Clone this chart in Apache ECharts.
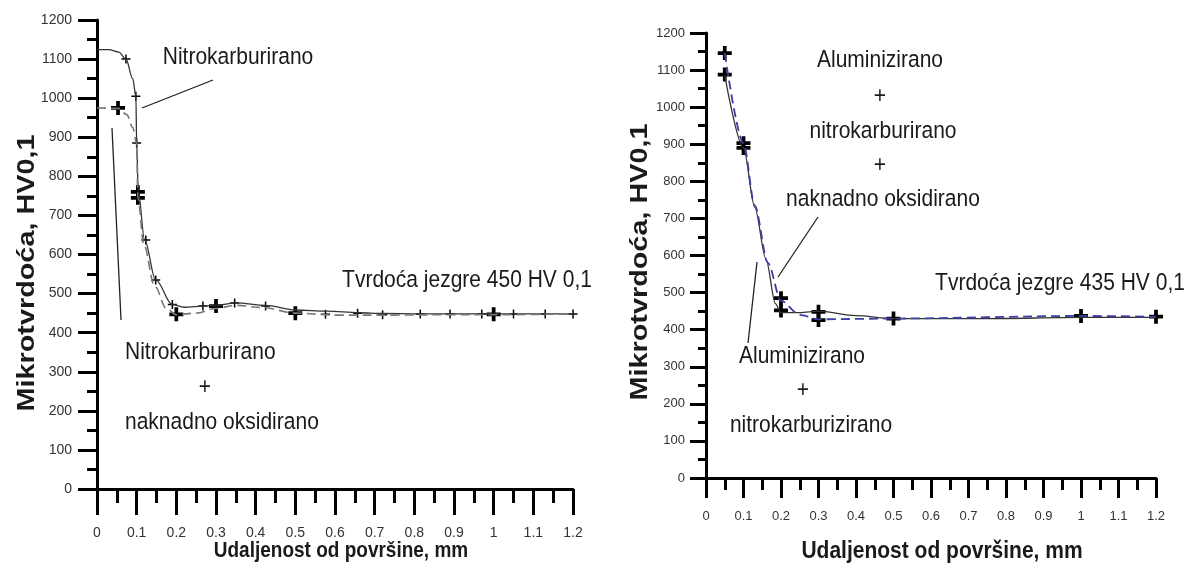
<!DOCTYPE html>
<html>
<head>
<meta charset="utf-8">
<script src="https://cdn.jsdelivr.net/npm/echarts@6/dist/echarts.min.js"></script>
<style>
  html, body { margin: 0; padding: 0; background: #fff; }
  #chart { width: 1194px; height: 583px; }
</style>
</head>
<body>
<div id="chart"></div>
<script>
// lijevi dijagram - nitrokarburirano
const leftSolidX = [0, 0.03, 0.055, 0.073, 0.09, 0.098, 0.1, 0.104, 0.12, 0.148, 0.19, 0.22, 0.27, 0.3, 0.35, 0.425, 0.5, 0.58, 0.66, 0.72, 0.815, 0.89, 0.97, 1.05, 1.13, 1.2];
const leftSolidY = [1125, 1124, 1118, 1100, 1050, 1005, 885, 760, 637, 535, 472, 465, 468, 470, 476, 470, 458, 455, 451, 449, 448, 448, 448, 448, 448, 448];
const leftDashX = [0, 0.053, 0.075, 0.09, 0.1, 0.103, 0.118, 0.145, 0.175, 0.2, 0.25, 0.3, 0.35, 0.42, 0.5, 0.6, 0.75, 0.9, 1.0, 1.2];
const leftDashY = [975, 974, 958, 925, 885, 745, 625, 520, 462, 446, 450, 462, 470, 464, 450, 445, 445, 446, 446, 448];
const leftThinMarks = [[0.073, 1100], [0.098, 1005], [0.1, 885], [0.123, 637], [0.148, 535], [0.19, 472], [0.267, 468], [0.347, 476], [0.425, 468], [0.576, 447], [0.657, 450], [0.72, 446], [0.815, 448], [0.89, 448], [0.97, 448], [1.05, 448], [1.13, 448], [1.2, 448]];
const leftBoldMarks = [[0.053, 975], [0.103, 760], [0.103, 745], [0.2, 447], [0.3, 468], [0.5, 450], [1.0, 447]];

// desni dijagram - aluminizirano
const rightSolidX = [0.05, 0.1, 0.13, 0.16, 0.185, 0.2, 0.25, 0.3, 0.4, 0.5, 0.75, 1.0, 1.2];
const rightSolidY = [1086, 890, 730, 590, 470, 446, 446, 450, 438, 430, 430, 433, 433];
const rightDashX = [0.05, 0.1, 0.13, 0.165, 0.2, 0.25, 0.3, 0.5, 1.0, 1.2];
const rightDashY = [1146, 903, 735, 580, 478, 440, 428, 430, 437, 435];
const rightMarks = [[0.05, 1146], [0.05, 1088], [0.1, 903], [0.1, 890], [0.2, 485], [0.2, 452], [0.3, 448], [0.3, 426], [0.5, 430], [1.0, 437], [1.2, 435]];

// osi
const xMin = 0, xMax = 1.2, xStep = 0.1;
const yMin = 0, yMax = 1200, yStep = 100;

const FONT = "'Liberation Sans', Arial, sans-serif";
const plusThin = "path://M-1,-6H1V-1H6V1H1V6H-1V1H-6V-1H-1Z";
const plusBold = "path://M-1.6,-6H1.6V-1.6H6V1.6H1.6V6H-1.6V1.6H-6V-1.6H-1.6Z";

function zip(xs, ys) {
  return xs.map((x, i) => [x, ys[i]]);
}

function axisOf(grid, min, max, step, tickLen, minorLen, margin, fs) {
  return {
    type: "value", gridIndex: grid, min: min, max: max, interval: step,
    axisLine: { show: true, onZero: false, lineStyle: { color: "#000", width: 3 } },
    axisTick: { show: true, length: tickLen, lineStyle: { color: "#000", width: 3 } },
    minorTick: { show: true, splitNumber: 2, length: minorLen, lineStyle: { color: "#000", width: 3 } },
    splitLine: { show: false },
    axisLabel: {
      margin: margin, fontSize: fs, color: "#333", fontFamily: FONT,
      formatter: v => String(Math.round(v * 10) / 10)
    }
  };
}

function txt(x, y, text, opt) {
  opt = opt || {};
  return {
    type: "text", x: x, y: y, rotation: opt.rot || 0,
    scaleX: opt.sx || 1, scaleY: opt.sy || 1.15,
    style: {
      text: text, fill: "#1a1a1a", font: (opt.bold ? "bold " : "") + (opt.size || 21) + "px " + FONT,
      align: opt.align || "center", verticalAlign: "middle"
    }
  };
}

function seg(x1, y1, x2, y2) {
  return { type: "line", shape: { x1: x1, y1: y1, x2: x2, y2: y2 }, style: { stroke: "#222", lineWidth: 1.3 } };
}

var myChart = echarts.init(document.getElementById("chart"));
myChart.setOption({
  animation: false,
  grid: [
    { left: 97, top: 20, width: 476, height: 469 },
    { left: 706, top: 33, width: 450, height: 445 }
  ],
  xAxis: [
    axisOf(0, xMin, xMax, xStep, 26, 14, 37, 14),
    axisOf(1, xMin, xMax, xStep, 20, 12, 32, 13)
  ],
  yAxis: [
    axisOf(0, yMin, yMax, yStep, 19, 10, 25, 14),
    axisOf(1, yMin, yMax, yStep, 16, 8, 21, 13)
  ],
  series: [
    { type: "line", xAxisIndex: 0, yAxisIndex: 0, data: zip(leftSolidX, leftSolidY), smooth: 0.35, smoothMonotone: "x", showSymbol: false, lineStyle: { color: "#333", width: 1.3 } },
    { type: "line", xAxisIndex: 0, yAxisIndex: 0, data: zip(leftDashX, leftDashY), smooth: 0.35, smoothMonotone: "x", showSymbol: false, lineStyle: { color: "#777", width: 1.6, type: [9, 5] } },
    { type: "scatter", xAxisIndex: 0, yAxisIndex: 0, data: leftThinMarks, symbol: plusThin, symbolSize: 9, itemStyle: { color: "#000", opacity: 1 } },
    { type: "scatter", xAxisIndex: 0, yAxisIndex: 0, data: leftBoldMarks, symbol: plusBold, symbolSize: 14, itemStyle: { color: "#000", opacity: 1 } },
    { type: "line", xAxisIndex: 1, yAxisIndex: 1, data: zip(rightSolidX, rightSolidY), smooth: 0.3, smoothMonotone: "x", showSymbol: false, lineStyle: { color: "#333", width: 1.3 } },
    { type: "line", xAxisIndex: 1, yAxisIndex: 1, data: zip(rightDashX, rightDashY), smooth: 0.3, smoothMonotone: "x", showSymbol: false, lineStyle: { color: "#3d3da8", width: 1.8, type: [9, 5] } },
    { type: "scatter", xAxisIndex: 1, yAxisIndex: 1, data: rightMarks, symbol: plusBold, symbolSize: 14, itemStyle: { color: "#000", opacity: 1 } }
  ],
  graphic: [
    // lijevo
    txt(238, 57, "Nitrokarburirano"),
    seg(213, 80, 142, 108),
    txt(467, 280, "Tvrdoća jezgre 450 HV 0,1"),
    seg(112, 128, 121, 320),
    txt(125, 352, "Nitrokarburirano", { align: "left" }),
    txt(205, 387, "+"),
    txt(125, 422, "naknadno oksidirano", { align: "left" }),
    txt(341, 551, "Udaljenost od površine, mm", { bold: true, size: 19, sy: 1.2 }),
    txt(27, 273, "Mikrotvrdoća, HV0,1", { bold: true, size: 24, sx: 1.2, sy: 1, rot: Math.PI / 2 }),
    // desno
    txt(880, 60, "Aluminizirano"),
    txt(880, 96, "+"),
    txt(883, 131, "nitrokarburirano"),
    txt(880, 165, "+"),
    txt(883, 199, "naknadno oksidirano"),
    seg(818, 217, 778, 277),
    txt(1060, 283, "Tvrdoća jezgre 435 HV 0,1"),
    txt(802, 356, "Aluminizirano"),
    txt(803, 390, "+"),
    txt(811, 425, "nitrokarburizirano"),
    seg(748, 343, 757, 262),
    txt(942, 551, "Udaljenost od površine, mm", { bold: true, size: 21, sy: 1.15 }),
    txt(640, 262, "Mikrotvrdoća, HV0,1", { bold: true, size: 24, sx: 1.2, sy: 1, rot: Math.PI / 2 })
  ]
});
</script>
</body>
</html>
